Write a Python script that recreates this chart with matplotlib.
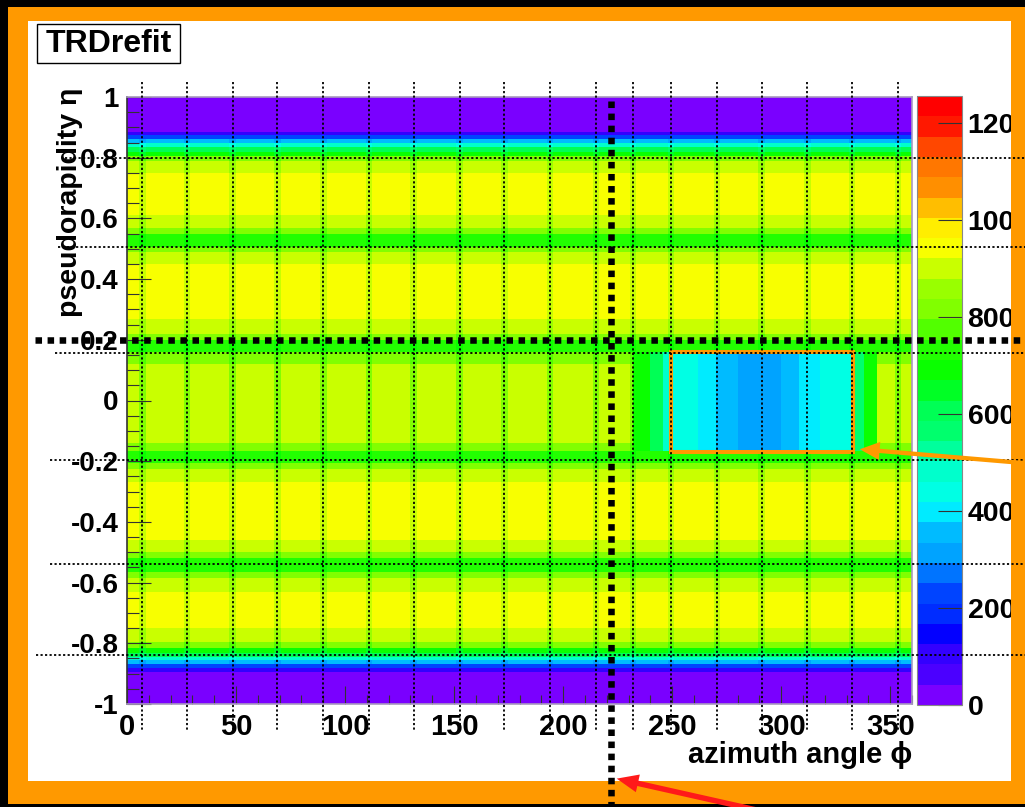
import colorsys
import numpy as np
import matplotlib
matplotlib.use('Agg')
import matplotlib.pyplot as plt
from matplotlib.colors import ListedColormap, BoundaryNorm
from matplotlib.patches import Rectangle, FancyArrowPatch
from matplotlib.lines import Line2D
from matplotlib.ticker import FuncFormatter
from matplotlib.transforms import Affine2D, blended_transform_factory

plt.rcParams['font.family'] = ['Liberation Sans', 'DejaVu Sans']
plt.rcParams['font.weight'] = 'bold'
plt.rcParams['axes.labelweight'] = 'bold'
plt.rcParams['axes.unicode_minus'] = False

W, H = 1025, 807

# track counts vs eta: lower edge of each eta slice and the counts in it
eta_edges = [-1.000, -0.895, -0.880, -0.868, -0.856, -0.845, -0.832, -0.815,
             -0.795, -0.750, -0.630, -0.585, -0.565, -0.520, -0.500, -0.460,
             -0.270, -0.225, -0.205, -0.165, -0.140, 0.120, 0.160, 0.200,
             0.220, 0.270, 0.450, 0.490, 0.505, 0.550, 0.570, 0.610,
             0.750, 0.790, 0.805, 0.820, 0.835, 0.848, 0.862, 0.874, 0.886]
eta_counts = [12, 110, 230, 350, 470, 590, 700, 820,
              900, 940, 900, 820, 740, 820, 900, 940,
              900, 820, 740, 820, 880, 820, 740, 820,
              900, 935, 900, 820, 740, 820, 900, 930,
              900, 820, 700, 590, 470, 350, 230, 110, 12]

# supermodule (sector) boundaries in phi [deg]
sector_phi = [7, 27.5, 48.5, 69, 90, 111, 131.5, 152.5, 173, 194, 215,
              232, 249.5, 270.5, 291, 312, 332.5, 353.5]
sector_dip = 0.95

# stack boundaries in eta and where their guide lines start (px)
stack_eta = [0.80, 0.505, 0.155, -0.195, -0.54, -0.84]
stack_x0 = [65, 58, 55, 50, 50, 36]

# low-efficiency patch in the central stack
dead_phi_edges = [232, 240, 246, 250, 262, 270, 280, 300, 308, 318, 333, 338, 344]
dead_counts = [700, 600, 500, 420, 400, 360, 330, 360, 400, 420, 560, 700]
dead_eta = (-0.165, 0.16)

box_phi = (249.5, 333.0)
box_eta = (-0.17, 0.16)
cut_phi = 222
cut_eta = 0.2
zmax = 1256

# ---- histogram cells
phi_e = np.unique(np.concatenate([[0, 360],
                                  np.array(sector_phi) - 1.5,
                                  np.array(sector_phi) + 1.5,
                                  dead_phi_edges]))
phi_e = phi_e[(phi_e >= 0) & (phi_e <= 360)]
eta_e = np.array(eta_edges + [1.0])
phi_c = 0.5 * (phi_e[1:] + phi_e[:-1])
eta_c = 0.5 * (eta_e[1:] + eta_e[:-1])

Z = np.tile(np.array(eta_counts, float)[:, None], (1, len(phi_c)))
near = np.min(np.abs(phi_c[:, None] - np.array(sector_phi)[None, :]), axis=1) < 1.5
Z[:, near] *= sector_dip
in_eta = (eta_c >= dead_eta[0]) & (eta_c < dead_eta[1])
k = np.searchsorted(dead_phi_edges, phi_c, side='right') - 1
in_phi = (k >= 0) & (k < len(dead_counts))
Z[np.ix_(in_eta, in_phi)] = np.array(dead_counts, float)[k[in_phi]][None, :]

# ROOT "pretty" palette: 50 HLS colours violet -> red, 30 contour levels
nlev = 30
pal = [colorsys.hls_to_rgb((280 - (i + 1) * 280 / 50) / 360, 0.5, 1.0) for i in range(50)]
cols = [pal[min(49, int((j + 0.99) * 50 / nlev))] for j in range(nlev)]
cmap = ListedColormap(cols)
levels = np.linspace(0, zmax, nlev + 1)
norm = BoundaryNorm(levels, nlev)

fig = plt.figure(figsize=(W / 100, H / 100), dpi=100, facecolor='black')
px = Affine2D().scale(1 / W, -1 / H).translate(0, 1) + fig.transFigure

orange = '#ff9900'
fig.add_artist(Rectangle((8, 7), W, 797, transform=px, fc=orange, ec='none', zorder=-10))
fig.add_artist(Rectangle((28, 21), 983, 760, transform=px, fc='white', ec='none', zorder=-9))

ax = fig.add_axes([127 / W, 1 - 704 / H, 785 / W, 607 / H])
mesh = ax.pcolormesh(phi_e, eta_e, Z, cmap=cmap, norm=norm, shading='flat',
                     edgecolors='none', antialiased=False)
ax.set_xlim(0, 360)
ax.set_ylim(-1, 1)
ax.set_xticks(np.arange(0, 351, 50))
ax.set_xticks(np.arange(0, 361, 10), minor=True)
ax.set_yticks(np.linspace(-1, 1, 11))
ax.set_yticks(np.linspace(-1, 1, 41), minor=True)
fmt = FuncFormatter(lambda v, p: f'{round(v, 2) + 0.0:g}')
ax.xaxis.set_major_formatter(fmt)
ax.yaxis.set_major_formatter(fmt)
ax.tick_params(axis='x', which='major', direction='in', length=13, width=0.8,
               color='#333333', labelsize=21, pad=6.5)
ax.tick_params(axis='x', which='minor', direction='in', length=6.5, width=0.8, color='#333333')
ax.tick_params(axis='y', which='major', direction='in', length=17, width=0.8,
               color='#333333', labelsize=20, pad=6)
ax.tick_params(axis='y', which='minor', direction='in', length=8.5, width=0.8, color='#333333')
for s in ax.spines.values():
    s.set_color('#a898bf')
    s.set_linewidth(1.2)
ax.spines['left'].set_color('#333333')

ax.set_xlabel('azimuth angle ϕ', loc='right', fontsize=21, fontweight='bold')
ax.xaxis.set_label_coords(1.0, -(741 - 704) / 607)
fig.text(70 / W, 1 - 88 / H, 'pseudorapidity η', rotation=90, ha='center', va='top',
         fontsize=20.5, fontweight='bold')

cax = fig.add_axes([917 / W, 1 - 705 / H, 45 / W, 609 / H])
cb = fig.colorbar(mesh, cax=cax, ticks=np.arange(0, 1201, 200))
cax.minorticks_off()
cax.tick_params(direction='in', length=17, width=0.8, color='#333333', labelsize=20.5, pad=4)
cb.outline.set_edgecolor('#888888')
cb.outline.set_linewidth(0.8)

# title box
fig.add_artist(Rectangle((37, 24), 143, 39, transform=px, fc='white', ec='black', lw=1, zorder=3))
fig.text(46 / W, 1 - 44 / H, 'TRDrefit', ha='left', va='center', fontsize=23, zorder=4)

# right frame strip drawn over the palette labels
fig.add_artist(Rectangle((1011, 7), 20, 797, transform=px, fc=orange, ec='none', zorder=5))

# guide lines: sector and stack boundaries
for p in sector_phi:
    fig.add_artist(Line2D([p, p], [82, 732], color='black', lw=1.3, dashes=(1.2, 1.3),
                          transform=blended_transform_factory(ax.transData, px), zorder=10))
for e, x0 in zip(stack_eta, stack_x0):
    fig.add_artist(Line2D([x0, 1030], [e, e], color='black', lw=1.3, dashes=(1.2, 1.3),
                          transform=blended_transform_factory(px, ax.transData), zorder=10))

# cut lines
fig.add_artist(Line2D([cut_phi, cut_phi], [101, 812], color='black', lw=4.7, dashes=(1.0, 0.85),
                      transform=blended_transform_factory(ax.transData, px), zorder=11))
fig.add_artist(Line2D([35, 1030], [cut_eta, cut_eta], color='black', lw=4.7, dashes=(1.0, 0.85),
                      transform=blended_transform_factory(px, ax.transData), zorder=11))

# marked region and arrows
fig.add_artist(Rectangle((box_phi[0], box_eta[0]), box_phi[1] - box_phi[0], box_eta[1] - box_eta[0],
                         transform=ax.transData, fill=False, ec=orange, lw=2.9, zorder=9))
fig.add_artist(FancyArrowPatch((1035, 464), (857, 449), transform=px, color=orange, lw=0,
                               arrowstyle='simple,head_length=1.1,head_width=1.0,tail_width=0.24',
                               mutation_scale=13, zorder=12))
fig.add_artist(FancyArrowPatch((770, 813), (614, 778), transform=px, color='#ff1a1a', lw=0,
                               arrowstyle='simple,head_length=1.2,head_width=1.0,tail_width=0.3',
                               mutation_scale=13, zorder=12))

fig.savefig('out.png', dpi=100, facecolor='black')
